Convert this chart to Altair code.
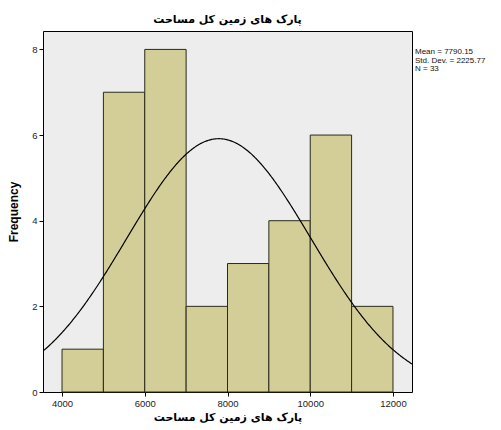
import altair as alt
import pandas as pd

# Histogram data (bin edges and counts)
bin_start = [4000, 5000, 6000, 7000, 8000, 9000, 10000, 11000]
bin_end = [5000, 6000, 7000, 8000, 9000, 10000, 11000, 12000]
counts = [1, 7, 8, 2, 3, 4, 6, 2]

# Summary statistics shown in the legend
mean_val = 7790.15
sd_val = 2225.77
n_val = 33
bin_width = 1000

stat_lines = ["Mean = 7790.15", "Std. Dev. = 2225.77", "N = 33"]

title_text = "پارک های زمین کل مساحت"
x_title = "پارک های زمین کل مساحت"
y_title = "Frequency"

x_ticks = [4000, 6000, 8000, 10000, 12000]
y_ticks = [0, 2, 4, 6, 8]
x_domain = [3540, 12460]
y_domain = [0, 8.43]

bars_df = pd.DataFrame({"start": bin_start, "end": bin_end, "count": counts})
stats_df = pd.DataFrame({"k": [0]})

x_scale = alt.Scale(domain=x_domain, nice=False, zero=False)
y_scale = alt.Scale(domain=y_domain, nice=False, zero=True)

x_axis = alt.Axis(values=x_ticks, title=x_title, labelFont="Liberation Sans", labelFontSize=9.5,
                  labelColor="#222222", tickColor="#000000", tickSize=4, domain=False, grid=False,
                  titleFont="DejaVu Sans", titleFontSize=11, titleFontWeight="bold", titlePadding=4,
                  labelPadding=2, format="d")
y_axis = alt.Axis(values=y_ticks, title=y_title, labelFont="Liberation Sans", labelFontSize=9.5,
                  labelColor="#222222", tickColor="#000000", tickSize=4, domain=False, grid=False,
                  titleFont="Liberation Sans", titleFontSize=12, titleFontWeight="bold", titlePadding=11,
                  labelPadding=2)

bars = alt.Chart(bars_df).mark_rect(color="#D3CE97", stroke="#2a2a1a", strokeWidth=1).encode(
    x=alt.X("start:Q", scale=x_scale, axis=x_axis),
    x2="end:Q",
    y=alt.Y("count:Q", scale=y_scale, axis=y_axis),
    y2=alt.datum(0),
)

curve = alt.Chart(alt.sequence(start=x_domain[0], stop=x_domain[1] + 10, step=20, as_="xv")).transform_calculate(
    dens=f"{n_val}*{bin_width}/({sd_val}*sqrt(2*PI))*exp(-0.5*pow((datum.xv-{mean_val})/{sd_val},2))"
).mark_line(color="#000000", strokeWidth=1.2, clip=True).encode(
    x=alt.X("xv:Q", scale=x_scale),
    y=alt.Y("dens:Q", scale=y_scale),
)

stats = alt.Chart(stats_df).mark_text(align="left", baseline="middle", font="Liberation Sans",
                                      fontSize=8, color="#111111", clip=False, lineHeight=8.5,
                                      text=stat_lines).encode(
    x=alt.value(372),
    y=alt.value(21),
)

chart = alt.layer(bars, curve, stats).properties(
    width=369, height=361,
    autosize=alt.AutoSizeParams(type="none"),
    padding={"left": 35, "top": 23, "right": 81, "bottom": 38},
    background="#FFFFFF",
    title=alt.TitleParams(title_text, font="DejaVu Sans", fontSize=11, fontWeight="bold",
                          color="#000000", anchor="middle", offset=6),
).configure_view(fill="#EDEDED", stroke="#000000", strokeWidth=1)

chart.save("out.html", embed_options={"renderer": "svg", "actions": False})
